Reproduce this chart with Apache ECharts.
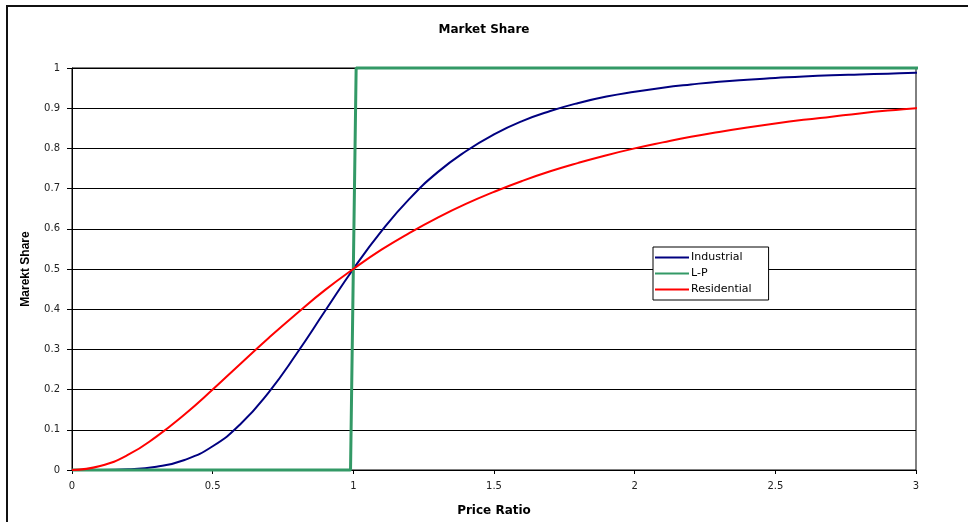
<!DOCTYPE html>
<html>
<head>
<meta charset="utf-8">
<script src="https://cdn.jsdelivr.net/npm/echarts@6/dist/echarts.min.js"></script>
<style>
  html, body { margin: 0; padding: 0; background: #fff; }
  #main { width: 968px; height: 522px; }
</style>
</head>
<body>
<div id="main"></div>
<script>
  // price ratio samples
  var priceRatio = [0, 0.1, 0.2, 0.3, 0.4, 0.5, 0.6, 0.7, 0.8, 0.9, 1.0,
    1.1, 1.2, 1.3, 1.4, 1.5, 1.6, 1.7, 1.8, 1.9, 2.0,
    2.1, 2.2, 2.3, 2.4, 2.5, 2.6, 2.7, 2.8, 2.9, 3.0, 3.03];
  var industrial = [0, 0.0001, 0.0016, 0.008, 0.025, 0.059, 0.115, 0.194, 0.291, 0.396, 0.5,
    0.594, 0.675, 0.741, 0.793, 0.835, 0.868, 0.893, 0.913, 0.929, 0.941,
    0.951, 0.959, 0.966, 0.971, 0.975, 0.979, 0.982, 0.984, 0.986, 0.988, 0.988];
  var residential = [0, 0.010, 0.038, 0.083, 0.138, 0.2, 0.265, 0.329, 0.390, 0.448, 0.5,
    0.548, 0.590, 0.628, 0.662, 0.692, 0.719, 0.743, 0.764, 0.783, 0.8,
    0.815, 0.829, 0.841, 0.852, 0.862, 0.871, 0.879, 0.887, 0.894, 0.9, 0.902];
  // L-P step
  var lpX = [0, 0.99, 1.01, 3.03];
  var lpY = [0, 0, 1, 1];

  function pairs(xs, ys) {
    var out = [];
    for (var i = 0; i < xs.length; i++) out.push([xs[i], ys[i]]);
    return out;
  }

  var myChart = echarts.init(document.getElementById('main'));
  var font = 'Liberation Sans, Arial, sans-serif';

  var option = {
    backgroundColor: '#fff',
    animation: false,
    graphic: [{
      type: 'rect',
      shape: { x: 7, y: 6, width: 1000, height: 1000 },
      style: { fill: 'none', stroke: '#111', lineWidth: 2 },
      z: -1
    }],
    title: {
      text: 'Market Share',
      left: 'center',
      top: 19,
      textStyle: { fontFamily: 'DejaVu Sans', fontWeight: 'bold', fontSize: 12, color: '#000' }
    },
    legend: {
      orient: 'vertical',
      left: 653,
      top: 247,
      backgroundColor: '#fff',
      borderColor: '#000',
      borderWidth: 1,
      padding: [5, 17, 5, 2],
      itemGap: 5,
      itemWidth: 34,
      itemHeight: 2,
      icon: 'rect',
      textStyle: { fontFamily: 'DejaVu Sans', fontSize: 11, color: '#000', padding: [0, 0, 0, -3] },
      data: ['Industrial', 'L-P', 'Residential']
    },
    grid: {
      left: 72, right: 52, top: 68, bottom: 49,
      show: true, borderColor: '#000', borderWidth: 1
    },
    xAxis: {
      type: 'value',
      min: 0, max: 3, interval: 0.5,
      name: 'Price Ratio',
      nameLocation: 'middle',
      nameGap: 35,
      nameTextStyle: { fontFamily: 'DejaVu Sans', fontWeight: 'bold', fontSize: 12, color: '#000' },
      axisLine: { lineStyle: { color: '#000' } },
      axisTick: { length: 4, lineStyle: { color: '#000' } },
      axisLabel: { fontFamily: 'DejaVu Sans', fontSize: 10, color: '#222', margin: 11 },
      splitLine: { show: false }
    },
    yAxis: {
      type: 'value',
      min: 0, max: 1, interval: 0.1,
      name: 'Marekt Share',
      nameLocation: 'middle',
      nameGap: 40,
      nameTextStyle: { fontFamily: font, fontWeight: 'bold', fontSize: 12, color: '#000' },
      axisLine: { show: true, lineStyle: { color: '#000' } },
      axisTick: { show: true, length: 5, lineStyle: { color: '#000' } },
      axisLabel: { fontFamily: 'DejaVu Sans', fontSize: 10, color: '#222', margin: 12 },
      splitLine: { lineStyle: { color: '#000', width: 1 } }
    },
    series: [{
      name: 'Industrial',
      type: 'line',
      data: pairs(priceRatio, industrial),
      smooth: true,
      showSymbol: false,
      clip: false,
      color: '#000080',
      lineStyle: { color: '#000080', width: 2 }
    }, {
      name: 'L-P',
      type: 'line',
      data: pairs(lpX, lpY),
      showSymbol: false,
      clip: false,
      color: '#339966',
      lineStyle: { color: '#339966', width: 3 }
    }, {
      name: 'Residential',
      type: 'line',
      data: pairs(priceRatio, residential),
      smooth: true,
      showSymbol: false,
      clip: false,
      color: '#ff0000',
      lineStyle: { color: '#ff0000', width: 2 }
    }]
  };

  myChart.setOption(option);
</script>
</body>
</html>
